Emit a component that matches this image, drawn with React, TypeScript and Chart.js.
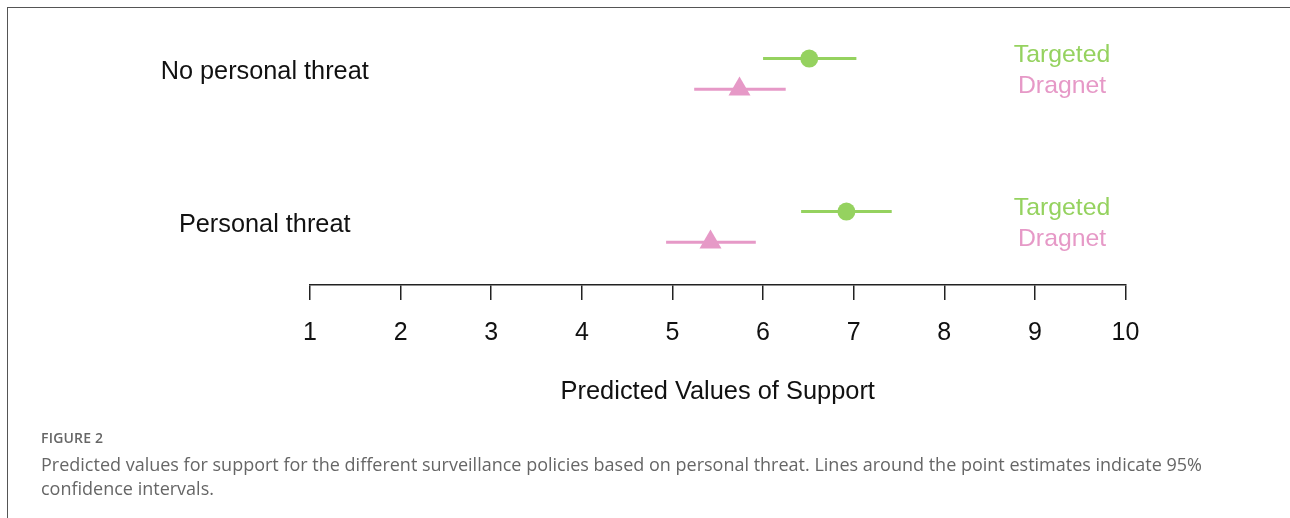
import React, { useEffect, useRef } from "react";
import { Chart, registerables } from "chart.js";

Chart.register(...registerables);

// Groups (top to bottom) and their vertical positions on the hidden y scale
const groups = ["No personal threat", "Personal threat"];
const groupPos = [2, 1];

// Point estimates with 95% confidence bounds, one entry per group
const targetedEst = [6.51, 6.92];
const targetedLow = [6.0, 6.42];
const targetedHigh = [7.03, 7.42];

const dragnetEst = [5.74, 5.42];
const dragnetLow = [5.24, 4.93];
const dragnetHigh = [6.25, 5.92];

const xTicks = [1, 2, 3, 4, 5, 6, 7, 8, 9, 10];

const GREEN = "#95d25f";
const PINK = "#e699c7";
const SANS = "'Liberation Sans', Arial, Helvetica, sans-serif";

const series = [
  { label: "Targeted", est: targetedEst, low: targetedLow, high: targetedHigh, shift: 0.1, color: GREEN, style: "circle", radius: 9 },
  { label: "Dragnet", est: dragnetEst, low: dragnetLow, high: dragnetHigh, shift: -0.1, color: PINK, style: "triangle", radius: 12.7 },
];

// Horizontal confidence-interval lines, group labels and per-row series labels
const intervalPlugin = {
  id: "intervals",
  beforeDatasetsDraw(chart: any) {
    const { ctx, scales } = chart;
    const xs = scales.x;
    const ys = scales.y;
    ctx.save();
    ctx.lineWidth = 3;
    series.forEach((s) => {
      ctx.strokeStyle = s.color;
      groupPos.forEach((g, i) => {
        const y = ys.getPixelForValue(g + s.shift);
        ctx.beginPath();
        ctx.moveTo(xs.getPixelForValue(s.low[i]), y);
        ctx.lineTo(xs.getPixelForValue(s.high[i]), y);
        ctx.stroke();
      });
    });
    ctx.restore();
  },
  afterDatasetsDraw(chart: any) {
    const { ctx, scales } = chart;
    const xs = scales.x;
    const ys = scales.y;
    ctx.save();
    ctx.textAlign = "center";
    ctx.textBaseline = "middle";
    groups.forEach((name, i) => {
      ctx.font = `25.3px ${SANS}`;
      ctx.fillStyle = "#111";
      ctx.fillText(name, xs.getPixelForValue(0.5), ys.getPixelForValue(groupPos[i]) - 2);
      ctx.font = `24.8px ${SANS}`;
      series.forEach((s) => {
        ctx.fillStyle = s.color;
        ctx.fillText(s.label, xs.getPixelForValue(9.3), ys.getPixelForValue(groupPos[i] + s.shift) - 3);
      });
    });
    ctx.restore();
  },
};

export default function App() {
  const canvasRef = useRef<HTMLCanvasElement>(null);

  useEffect(() => {
    if (!canvasRef.current) return;
    const chart = new Chart(canvasRef.current, {
      type: "scatter",
      data: {
        datasets: series.map((s) => ({
          label: s.label,
          data: s.est.map((v, i) => ({ x: v, y: groupPos[i] + s.shift })),
          pointStyle: s.style as any,
          pointRadius: s.radius,
          pointHoverRadius: s.radius,
          backgroundColor: s.color,
          borderColor: s.color,
          borderWidth: 0,
        })),
      },
      options: {
        animation: false,
        responsive: false,
        events: [],
        layout: { padding: { left: 310, right: 164.5, top: 8.7, bottom: 0 } },
        plugins: { legend: { display: false }, tooltip: { enabled: false } },
        scales: {
          x: {
            type: "linear",
            min: 1,
            max: 10,
            afterBuildTicks: (scale: any) => {
              scale.ticks = xTicks.map((v) => ({ value: v }));
            },
            afterFit: (scale: any) => {
              scale.height = 518 - 285;
            },
            border: { display: true, color: "#222", width: 1.5 },
            grid: { display: true, drawOnChartArea: false, drawTicks: true, tickLength: 15, color: "#222", lineWidth: 1.5 },
            ticks: {
              color: "#111",
              padding: 18,
              maxRotation: 0,
              font: { family: SANS, size: 25 },
            },
            title: {
              display: true,
              text: "Predicted Values of Support",
              color: "#111",
              font: { family: SANS, size: 25.4 },
              padding: { top: 30, bottom: 111 },
            },
          },
          y: { type: "linear", min: 0.62, max: 2.4, display: false },
        },
      },
      plugins: [intervalPlugin],
    });
    return () => chart.destroy();
  }, []);

  return (
    <div style={{ position: "absolute", left: 0, top: 0, width: 1290, height: 518, background: "#fff", overflow: "hidden" }}>
      <div style={{ position: "absolute", left: 7, top: 7, right: -2, bottom: -2, borderLeft: "1.5px solid #555", borderTop: "1.5px solid #555" }} />
      <canvas ref={canvasRef} width={1290} height={518} style={{ position: "absolute", left: 0, top: 0 }} />
      <div style={{ position: "absolute", left: 41, top: 427, fontFamily: "'Open Sans', sans-serif", color: "#666" }}>
        <div style={{ fontSize: 14, fontWeight: 600, lineHeight: "22px", letterSpacing: 0.2 }}>FIGURE 2</div>
        <div style={{ fontSize: 18, lineHeight: "24px", marginTop: 3, width: 1240, whiteSpace: "nowrap" }}>
          Predicted values for support for the different surveillance policies based on personal threat. Lines around the point estimates indicate 95%
          <br />
          confidence intervals.
        </div>
      </div>
    </div>
  );
}
